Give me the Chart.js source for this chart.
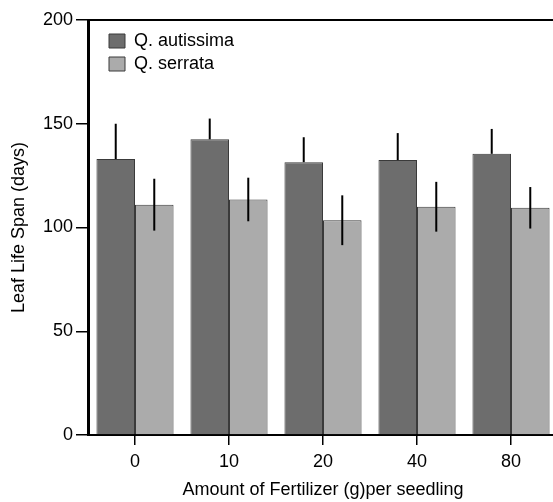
<!DOCTYPE html>
<html>
<head>
<meta charset="utf-8">
<script src="https://cdn.jsdelivr.net/npm/chart.js@4"></script>
<style>
  html, body { margin: 0; padding: 0; background: #fff; overflow: hidden; }
  canvas { display: block; }
</style>
</head>
<body>
<canvas id="chart" width="562" height="502"></canvas>
<script>
const categories = ["0", "10", "20", "40", "80"];
const autissima = [133, 142.5, 131.5, 132.5, 135.5];
const autissimaErr = [17, 10, 12, 13, 12];
const serrata = [111, 113.5, 103.5, 110, 109.5];
const serrataErr = [12.5, 10.5, 12, 12, 10];
const yTicks = [0, 50, 100, 150, 200];

Chart.defaults.font.family = "'Liberation Sans', Arial, sans-serif";
Chart.defaults.font.size = 18;
Chart.defaults.color = "#000";

// error bars: autissima only upward (lower part hidden in the dark bar), serrata both ways
const errorBars = {
  id: "errorBars",
  afterDatasetsDraw(chart) {
    const ctx = chart.ctx;
    const y = chart.scales.y;
    const sets = [
      { err: autissimaErr, vals: autissima, down: false },
      { err: serrataErr, vals: serrata, down: true },
    ];
    ctx.save();
    ctx.strokeStyle = "#000";
    ctx.lineWidth = 2;
    sets.forEach((s, di) => {
      chart.getDatasetMeta(di).data.forEach((bar, i) => {
        const top = y.getPixelForValue(s.vals[i] + s.err[i]);
        const bottom = s.down ? y.getPixelForValue(s.vals[i] - s.err[i]) : bar.y;
        ctx.beginPath();
        ctx.moveTo(bar.x, top);
        ctx.lineTo(bar.x, bottom);
        ctx.stroke();
      });
    });
    ctx.restore();
  },
};

// top frame line + move legend inside the plot
const frame = {
  id: "frame",
  afterLayout(chart) {
    const ca = chart.chartArea;
    const lg = chart.legend;
    const w = lg.width, h = lg.height;
    lg.left = ca.left + 16;
    lg.top = ca.top + 7;
    lg.right = lg.left + w;
    lg.bottom = lg.top + h;
  },
  afterDraw(chart) {
    const ca = chart.chartArea;
    const ctx = chart.ctx;
    ctx.save();
    ctx.strokeStyle = "#000";
    ctx.lineWidth = 2;
    ctx.beginPath();
    ctx.moveTo(ca.left, ca.top);
    ctx.lineTo(ca.right + 10, ca.top);
    ctx.stroke();
    ctx.restore();
  },
};

new Chart(document.getElementById("chart"), {
  type: "bar",
  data: {
    labels: categories,
    datasets: [
      {
        label: "Q. autissima",
        data: autissima,
        backgroundColor: "#6d6d6d",
        borderColor: "#3a3a3a",
        borderWidth: 1,
        barPercentage: 1.0,
        categoryPercentage: 0.82,
      },
      {
        label: "Q. serrata",
        data: serrata,
        backgroundColor: "#ababab",
        borderColor: "#3a3a3a",
        borderWidth: 1,
        barPercentage: 1.0,
        categoryPercentage: 0.82,
      },
    ],
  },
  options: {
    responsive: false,
    animation: false,
    layout: { padding: { top: 20, right: 4, left: 0, bottom: 0 } },
    plugins: {
      tooltip: { enabled: false },
      legend: {
        position: "chartArea",
        align: "start",
        labels: {
          boxWidth: 16,
          boxHeight: 14,
          padding: 5,
          color: "#000",
          font: { size: 18 },
        },
      },
    },
    scales: {
      x: {
        grid: {
          offset: false,
          drawOnChartArea: false,
          drawTicks: true,
          tickLength: 10,
          color: "#000",
          lineWidth: 1.5,
        },
        border: { display: true, color: "#000", width: 2 },
        ticks: { padding: 6, font: { size: 18 }, color: "#000" },
        title: {
          display: true,
          text: "Amount of Fertilizer (g)per seedling",
          font: { size: 18 },
          color: "#000",
          padding: { top: 0, bottom: 1 },
        },
        afterFit(scale) { scale.height = 67; },
      },
      y: {
        min: 0,
        max: 200,
        afterBuildTicks(scale) { scale.ticks = yTicks.map(v => ({ value: v })); },
        grid: {
          drawOnChartArea: false,
          drawTicks: true,
          tickLength: 12,
          color: "#000",
          lineWidth: 1.5,
        },
        border: { display: true, color: "#000", width: 3 },
        ticks: { padding: 3, font: { size: 18 }, color: "#000" },
        title: {
          display: true,
          text: "Leaf Life Span (days)",
          font: { size: 18 },
          color: "#000",
          padding: { top: 8, bottom: 0 },
        },
        afterFit(scale) { scale.width = 88; },
      },
    },
  },
  plugins: [errorBars, frame],
});
</script>
</body>
</html>
